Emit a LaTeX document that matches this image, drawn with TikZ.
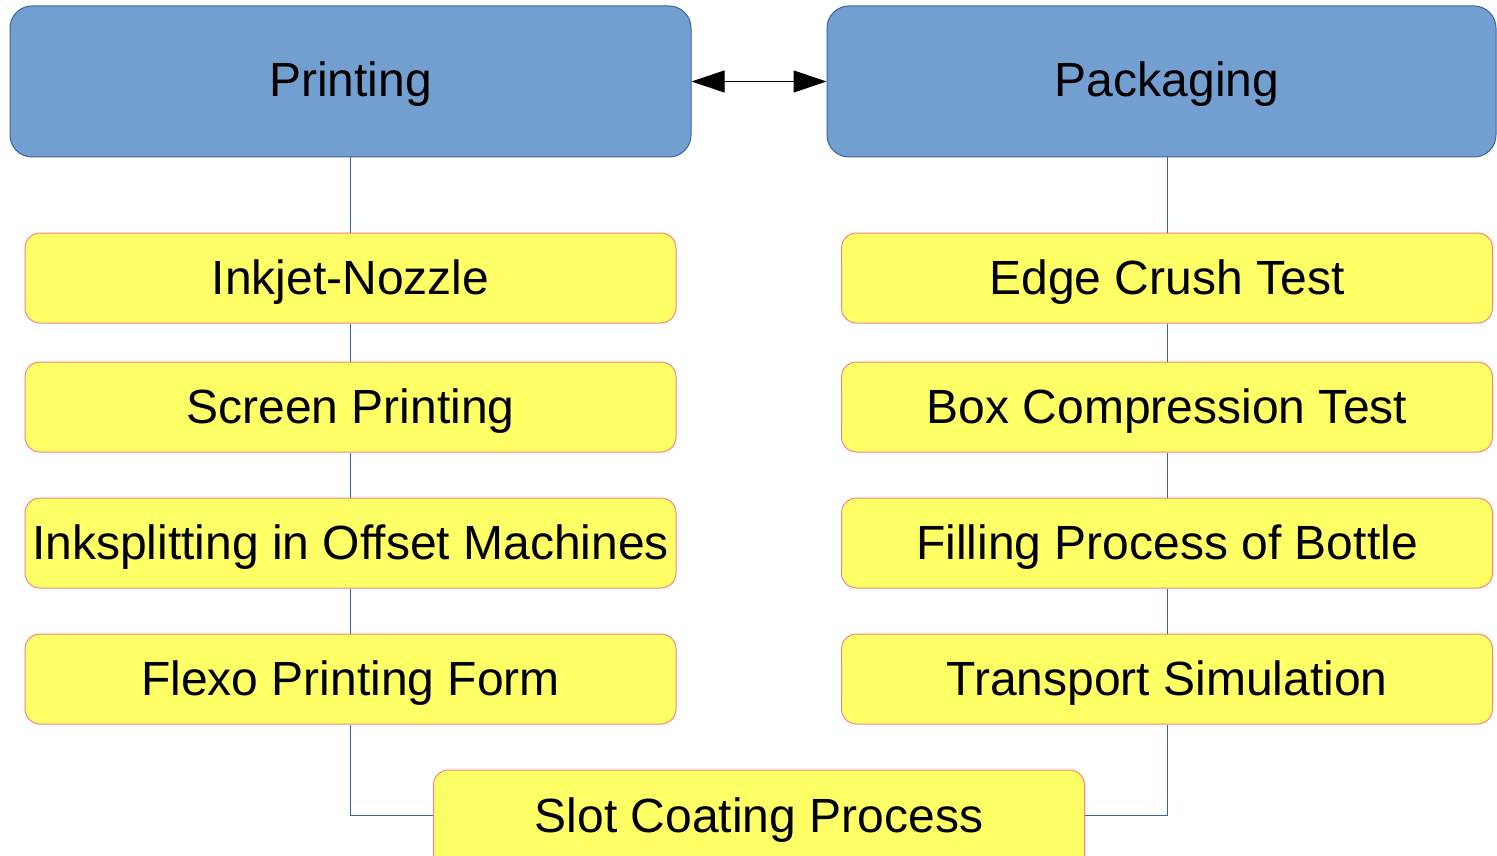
\documentclass[tikz,border=0pt]{standalone}
\usepackage{fontspec}
\setmainfont{Liberation Sans}
\usetikzlibrary{arrows.meta}
\definecolor{headfill}{HTML}{729FCF}
\definecolor{headdraw}{HTML}{3465A4}
\definecolor{itemfill}{HTML}{FFFF66}
\definecolor{itemdraw}{HTML}{FF8080}
\definecolor{linkcol}{HTML}{3465A4}
\tikzset{
  head/.style={draw=headdraw, fill=headfill, line width=1pt, rounded corners=22pt,
    minimum height=151pt, inner sep=0pt},
  item/.style={draw=itemdraw, fill=itemfill, line width=1pt, rounded corners=15pt,
    minimum width=651pt, minimum height=90pt, inner sep=0pt,
    text height=38pt, text depth=5pt,
    font=\fontsize{48}{52}\selectfont},
  label text/.style={font=\fontsize{48}{52}\selectfont, inner sep=0pt, anchor=base},
  link/.style={draw=linkcol, line width=1pt},
}
\begin{document}
\begin{tikzpicture}[x=1pt,y=-1pt]
\useasboundingbox (0,0) rectangle (1497,856);
\clip (0,0) rectangle (1497,856);

% elbow points of the two links into the bottom box
\coordinate (lc) at (350.5,815);
\coordinate (rc) at (1167,815);

% header boxes
\node[head, minimum width=681pt] (print) at (350.5,81.5) {};
\node[label text] (printT) at (350.5,97) {Printing};
\node[head, minimum width=669pt] (pack) at (1161.5,81.5) {};
\node[label text] (packT) at (1167,97) {Packaging};

% left column
\node[item] (ink)   at (350.5,278) {Inkjet-Nozzle};
\node[item] (scr)   at (350.5,407) {Screen Printing};
\node[item] (off)   at (350.5,543) {Inksplitting in Offset Machines};
\node[item] (flexo) at (350.5,679) {Flexo Printing Form};

% right column
\node[item] (edge)  at (1167,278) {Edge Crush Test};
\node[item] (box)   at (1167,407) {Box Compression Test};
\node[item] (fill)  at (1167,543) {Filling Process of Bottle};
\node[item] (trans) at (1167,679) {Transport Simulation};

% bottom box, cut by the lower edge
\node[item, minimum height=110pt] (slot) at (759,825) {};
\node[label text] (slotT) at (759,832) {Slot Coating Process};

% links
\draw[link] (print.south) -- (ink.north);
\draw[link] (ink.south) -- (scr.north);
\draw[link] (scr.south) -- (off.north);
\draw[link] (off.south) -- (flexo.north);
\draw[link] (flexo.south) -- (lc) -- (slot.west |- lc);
\draw[link] (pack.south -| edge) -- (edge.north);
\draw[link] (edge.south) -- (box.north);
\draw[link] (box.south) -- (fill.north);
\draw[link] (fill.south) -- (trans.north);
\draw[link] (trans.south) -- (rc) -- (slot.east |- rc);

% two-way arrow between the headers
\draw[line width=1pt, {Triangle[length=33pt,width=22pt]}-{Triangle[length=33pt,width=22pt]}]
  (print.east |- print.center) -- (pack.west |- pack.center);
\end{tikzpicture}
\end{document}
